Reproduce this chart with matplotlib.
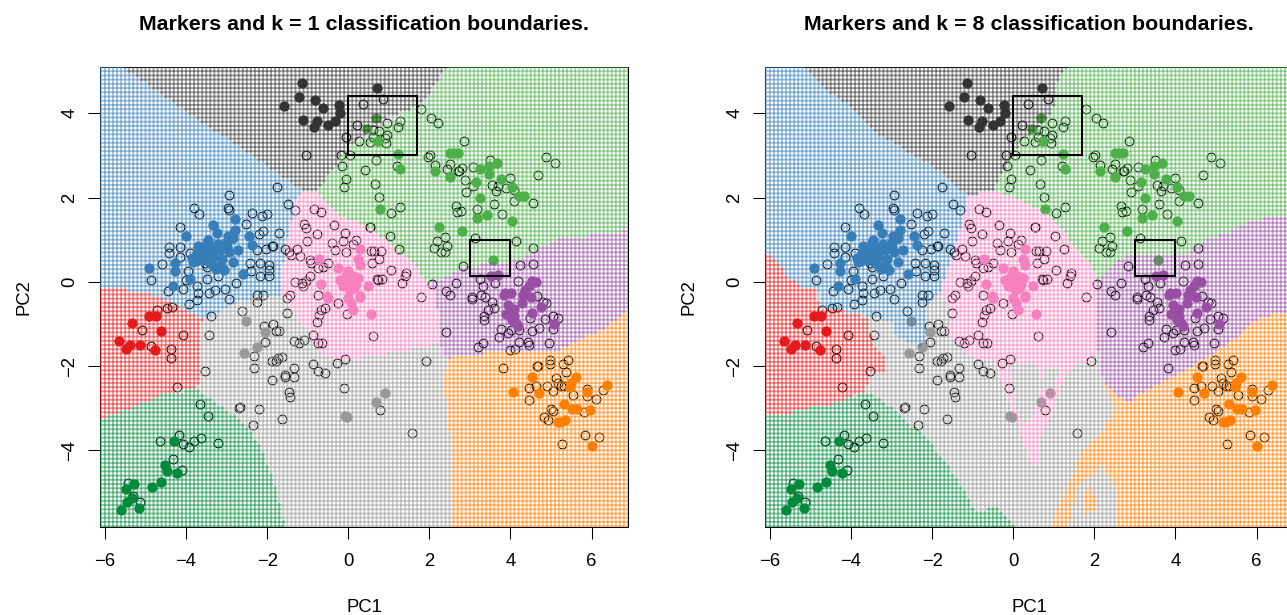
import numpy as np
from matplotlib import pyplot as plt
from matplotlib.collections import LineCollection
from matplotlib.path import Path

plt.rcParams['font.family'] = ['Liberation Sans', 'DejaVu Sans']

# 마커 세포 (PC1, PC2)
dark_grey_cells = [(-1.14,4.71),(-1.22,4.38),(-1.59,4.17),(-0.83,4.32),(-0.62,4.12),(-0.23,4.20),(-0.21,4.00),
    (-0.32,3.81),(-0.51,3.72),(-0.76,3.81),(-0.85,3.68),(-1.12,3.83),(0.72,4.60)]
blue_cells = [(-2.80,1.48),(-3.34,1.34),(-4.00,1.08),(-3.23,1.16),(-2.79,1.24),(-2.44,1.08),(-3.45,1.00),(-2.96,1.09),
    (-2.84,1.04),(-2.37,0.88),(-4.91,0.34),(-4.26,0.44),(-4.26,0.25),(-3.89,0.07),(-4.31,-0.09),(-3.82,0.48),(-3.70,0.84),
    (-3.58,0.76),(-3.66,0.60),(-3.41,0.84),(-3.17,0.76),(-3.00,0.84),(-2.71,0.76),(-2.84,0.48),(-3.29,0.36),(-3.06,0.29),
    (-2.59,0.19),(-3.74,0.68),(-3.33,0.60),(-3.49,0.92),(-3.86,0.56),(-3.2,0.9),(-3.5,0.65),(-3.1,0.55),(-3.25,0.3),(-3.0,0.95),
    (-3.3,0.75),(-3.6,0.55),(-3.15,0.4),(-2.95,0.7),(-3.4,0.45),(-3.75,0.5)]
pink_cells = [(0.28,0.79),(-0.71,0.55),(0.24,0.55),(-0.25,0.32),(0.28,0.40),(0.0,0.25),(0.12,0.13),(-0.66,-0.06),
    (-0.13,-0.11),(0.49,-0.11),(0.12,-0.03),(0.28,-0.33),(-0.52,-0.33),(-0.50,-0.39),(0.28,-0.35),(0,-0.39),(0.12,-0.67),
    (0.08,-0.51),(0.57,-0.77),(0.0,0.05),(-0.1,-0.05),(0.05,-0.2),(0.25,0.1),(-0.2,0.05),(0.15,-0.15),(0.2,-0.05),(-0.05,0.15)]
grey_cells = [(-2.51,-0.94),(-2.04,-1.20),(-2.25,-1.54),(-2.57,-1.70),(0.92,-2.63),(0.68,-2.86),(-0.09,-3.18),(-0.03,-3.21)]
red_cells = [(-5.32,-0.98),(-4.91,-0.80),(-4.74,-0.81),(-4.62,-1.17),(-5.64,-1.41),(-5.37,-1.51),(-5.14,-1.50),
    (-5.49,-1.60),(-4.77,-1.62)]
dark_green_cells = [(-4.30,-3.79),(-4.51,-4.36),(-4.46,-4.50),(-4.22,-4.53),(-4.62,-4.76),(-4.84,-4.86),(-5.28,-4.81),
    (-5.49,-4.92),(-5.34,-5.12),(-5.46,-5.22),(-5.17,-5.37),(-5.60,-5.42)]
green_cells = [(0.68,3.90),(0.46,3.63),(0.73,3.35),(1.24,3.04),(1.27,2.68),(2.51,3.07),(2.62,3.07),(2.70,3.06),(2.14,2.63),
    (2.51,2.49),(3.24,2.68),(3.48,2.74),(3.67,2.83),(3.48,2.57),(3.76,2.45),(3.14,2.37),(4.03,2.24),(4.22,2.03),(4.33,2.03),
    (3.25,2.00),(3.43,1.58),(3.17,1.51),(4.04,1.44),(2.23,1.31),(2.80,1.21),(0.78,1.73),(3.58,0.51)]
purple_cells = [(3.70,0.17),(3.87,-0.27),(4.54,0.02),(3.85,-0.31),(4.31,-0.31),(4.51,-0.35),(4.29,-0.51),(3.94,-0.55),
    (4.76,-0.60),(3.88,-0.76),(4.54,-0.75),(4.10,-0.82),(4.14,-0.98),(5.07,-1.01),(4.18,-1.06),(4.02,-0.27),(4.64,-0.01),
    (3.53,0.13),(4.47,-0.11),(4.1,-0.65),(4.35,-0.2),(4.05,-0.9)]
orange_cells = [(4.54,-2.27),(5.63,-2.26),(5.50,-2.41),(5.47,-2.50),(6.38,-2.44),(4.06,-2.62),(4.71,-2.64),(5.89,-2.62),
    (5.31,-2.91),(5.51,-3.02),(5.65,-3.02),(5.97,-3.04),(5.17,-3.32),(5.25,-3.33),(5.35,-3.29),(6.02,-3.90)]

# 마커가 없는 세포
other_cells = [(-2.93,2.06),(-3.80,1.76),(-3.67,1.60),(-2.97,1.76),(-2.95,1.71),(-2.36,1.64),(-2.13,1.56),(-1.99,1.62),
    (-2.51,1.37),(-4.14,1.29),(-1.71,1.16),(-2.10,1.20),(-2.20,1.14),(-1.85,0.86),(-1.89,0.84),(-2.03,0.79),(-2.26,0.76),
    (-4.41,0.82),(-4.41,0.68),(-4.15,0.82),(-4.15,0.60),(-4.59,0.43),(-4.86,0.04),(-4.45,-0.22),(-4.08,-0.17),(-3.72,-0.11),
    (-3.29,-0.19),(-3.04,-0.16),(-2.77,-0.03),(-3.47,0.07),(-3.21,0.13),(-2.43,0.44),(-2.18,0.44),(-1.95,0.40),(-1.95,0.29),
    (-1.95,0.13),(-2.18,0.13),(-2.39,0.25),(-3.95,0.25),(-3.99,0.05),(-3.70,-0.27),(-3.90,0.68),(-3.53,0.44),(-3.49,0.36),
    (-2.10,-0.31),(-2.24,-0.31),(-1.75,2.26),(-1.48,1.84),(-1.31,1.71),(-1.55,0.78),(-3.72,-0.43),(-3.92,-0.53),(-3.42,-0.27),
    (-2.93,-0.40),(-2.24,-0.47),(-4.46,-0.63),(-4.34,-0.60),(-4.72,-0.68),(-3.39,-0.80),
    (-1.10,1.38),(-1.05,1.27),(-0.77,1.13),(-1.01,0.97),(-0.66,1.65),(-0.85,1.72),(-0.35,1.35),(-0.09,1.17),(0.55,1.31),
    (0.20,1.00),(0.12,0.90),(-0.13,0.96),(-0.32,0.76),(-0.41,0.92),(-0.05,0.72),(0.57,0.74),(0.63,0.74),(-1.26,0.78),
    (-1.47,0.72),(-1.40,0.64),(-1.18,0.62),(-0.95,0.52),(-0.91,0.44),(-1.30,-0.01),(-1.15,-0.02),(-1.03,0.02),(-0.95,0.13),
    (-1.11,-0.10),(-0.74,-0.31),(-1.44,-0.31),(-0.62,0.36),(-0.50,0.44),(-0.74,0.32),(0.73,0.05),(1.25,0.78),(1.02,1.08),
    (0.80,0.74),(0.75,0.54),(0.59,0.44),(1.06,0.28),(1.43,0.21),(1.41,0.14),(0.72,0.06),(0.83,0.06),(1.33,-0.03),(1.80,-0.35),
    (-1.52,-0.39),(-0.25,-0.51),(-0.56,-0.63),(-0.03,-0.76),(-0.68,-0.66),(-0.72,-0.78),(-0.77,-0.96),(-0.87,-1.26),
    (-0.74,-1.46),(-0.64,-1.46),(-1.09,-1.38),(-1.22,-1.46),(-1.33,-1.40),(-1.50,-0.74),(0.60,-1.28),
    (-2.62,-0.69),(-2.08,-1.06),(-1.85,-1.00),(-1.77,-1.16),(-1.70,-1.16),(-2.06,-1.42),(-2.32,-1.75),(-1.88,-1.89),
    (-1.79,-1.89),(-1.73,-1.81),(-1.62,-1.79),(-2.33,-2.04),(-1.56,-2.21),(-1.56,-2.25),(-1.34,-2.05),(-1.33,-2.26),
    (-1.89,-2.34),(-0.87,-1.95),(-0.75,-2.11),(-0.57,-2.17),(-0.28,-1.92),(-0.07,-1.84),(-0.11,-2.53),(-1.46,-2.62),
    (-1.43,-2.74),(-2.20,-3.03),(-2.67,-2.96),(-2.70,-3.00),(-1.63,-3.25),(-2.34,-3.39),(-3.53,-2.11),(-3.44,-1.26),
    (0.78,-3.04),(1.57,-3.59),(1.92,-1.88),
    (-5.08,-1.14),(-4.86,-1.52),(-4.36,-1.59),(-4.36,-1.80),(-4.08,-1.26),(-4.22,-2.49),
    (-3.65,-2.91),(-3.45,-3.18),(-4.17,-3.63),(-4.65,-3.77),(-4.07,-3.85),(-3.93,-3.92),(-3.81,-3.78),(-3.64,-3.71),
    (-3.22,-3.82),(-4.32,-4.20),(-4.11,-4.47),(-5.42,-4.77),(-5.30,-5.08),(-5.13,-5.23),
    (0.36,4.23),(0.87,4.34),(1.79,4.11),(2.03,3.88),(2.22,3.78),(1.28,3.82),(1.23,3.67),(0.96,3.78),(0.22,3.72),(0.61,3.61),
    (0.76,3.57),(0.96,3.49),(-0.05,3.44),(0.27,3.34),(0.55,3.33),(0.61,3.44),(0.90,3.41),(0.93,3.29),(0.05,3.02),(-0.18,3.00),
    (0.69,2.90),(-0.15,2.76),(0.42,2.66),(1.20,2.74),(-0.05,2.45),(-0.11,2.24),(0.67,2.32),(0.75,2.02),(1.06,1.64),(1.28,1.78),
    (2.85,3.35),(1.97,2.96),(2.01,3.02),(2.15,2.78),(2.50,2.79),(2.44,2.68),(2.73,2.62),(2.80,2.70),(2.71,2.64),(3.08,2.72),
    (3.49,2.90),(4.00,2.46),(4.88,2.96),(5.09,2.82),(4.68,2.53),(2.88,2.41),(3.09,2.28),(2.91,2.13),(3.54,2.30),(3.69,2.28),
    (3.64,2.15),(3.88,2.23),(4.10,2.19),(4.08,1.93),(4.55,1.88),(3.60,1.85),(3.17,1.74),(2.66,1.79),(2.68,1.65),(2.78,1.69),
    (3.79,1.62),(0.54,1.30),(2.39,1.06),(2.20,0.97),(2.43,0.86),(2.12,0.80),(2.30,0.72),(2.39,0.72),(3.12,1.04),(4.14,0.98),
    (4.55,0.80),(2.84,0.38),(-1.03,3.01),
    (2.07,-0.06),(2.42,-0.21),(2.51,-0.31),(2.65,-0.03),(3.24,0.06),(3.32,-0.10),(3.61,-0.03),(4.23,0.40),(4.56,0.42),
    (4.18,0.03),(3.06,-0.36),(3.28,-0.31),(3.06,-0.40),(3.38,-0.36),(3.55,-0.49),(3.59,-0.63),(3.44,-0.66),(3.36,-0.81),
    (3.36,-0.90),(2.41,-1.20),(3.76,-1.12),(3.71,-1.31),(3.94,-1.22),(4.02,-1.14),(4.22,-1.14),(4.54,-1.16),(4.70,-1.09),
    (5.05,-1.12),(4.43,-1.42),(4.46,-1.51),(4.21,-1.43),(4.94,-1.46),(3.32,-1.46),(3.21,-1.55),(4.00,-1.63),(4.12,-1.60),
    (4.65,-0.33),(4.88,-0.51),(4.80,-0.49),(4.49,-0.86),(4.86,-0.88),(5.06,-0.81),(5.17,-0.86),
    (3.81,-2.04),(4.65,-2.00),(4.69,-2.00),(4.98,-1.85),(4.98,-1.95),(5.29,-1.95),(5.42,-1.85),(5.37,-2.15),(5.13,-2.29),
    (5.17,-2.39),(5.24,-2.47),(5.31,-2.47),(4.46,-2.51),(4.63,-2.47),(4.91,-2.47),(5.05,-2.59),(4.45,-2.80),(5.54,-2.68),
    (5.90,-2.54),(5.88,-2.72),(6.10,-2.79),(6.28,-2.57),(4.99,-3.02),(5.04,-3.06),(5.81,-3.10),(4.83,-3.21),(4.93,-3.29),
    (5.83,-3.64),(6.19,-3.68),(5.27,-3.84)]

# 색상
cell_colors = {'dark_grey': '#333333', 'blue': '#377EB8', 'pink': '#F781BF', 'grey': '#999999', 'red': '#E41A1C',
               'dark_green': '#018A3C', 'green': '#4DAF4A', 'purple': '#984EA3', 'orange': '#FF7F00'}
marked_cells = [('dark_grey', dark_grey_cells), ('blue', blue_cells), ('pink', pink_cells), ('grey', grey_cells),
                ('red', red_cells), ('dark_green', dark_green_cells), ('green', green_cells),
                ('purple', purple_cells), ('orange', orange_cells)]

# k = 1 경계 (앞에서부터 차례로 덮어쓴다, 나머지는 grey)
regions_k1 = [
    ('green', [(2.58,5.3),(7.1,5.3),(7.1,1.24),(5.13,1.0),(4.22,0.52),(2.91,0.36),(2.01,-0.03),(1.43,0.6),(0.61,1.23),
               (-0.21,1.59),(-0.78,2.15),(0.0,3.2),(1.2,3.9),(1.9,4.3)]),
    ('dark_grey', [(-5.87,5.3),(2.58,5.3),(1.76,4.16),(1.0,3.9),(0.0,3.2),(-0.78,2.15),(-1.11,2.15)]),
    ('blue', [(-6.3,5.3),(-5.87,5.3),(-1.11,2.15),(-1.28,2.03),(-1.44,1.24),(-1.56,0.76),(-1.65,0.13),(-1.6,-0.31),(-2.26,-0.39),
              (-2.84,-0.51),(-3.41,-0.86),(-3.58,-0.90),(-4.72,-0.32),(-6.3,-0.07)]),
    ('pink', [(-1.11,2.15),(-0.78,2.15),(-0.21,1.59),(0.61,1.23),(1.43,0.6),(2.01,-0.03),(2.17,-0.19),(2.25,-1.46),(1.19,-1.66),
              (-0.21,-1.89),(-0.78,-1.62),(-1.03,-1.14),(-1.44,-0.59),(-1.6,-0.31),(-1.65,0.13),(-1.56,0.76),(-1.44,1.24),(-1.28,2.03)]),
    ('purple', [(7.1,1.24),(5.13,1.0),(4.22,0.52),(2.91,0.36),(2.01,-0.03),(2.17,-0.19),(2.25,-1.46),(2.42,-1.81),(3.4,-1.69),
                (4.22,-1.66),(5.05,-1.69),(5.70,-1.38),(6.36,-1.10),(7.1,-0.55)]),
    ('orange', [(2.42,-1.81),(3.4,-1.69),(4.22,-1.66),(5.05,-1.69),(5.70,-1.38),(6.36,-1.10),(7.1,-0.55),(7.1,-6.0),(2.5,-6.0),
                (2.5,-3.6),(2.38,-2.56)]),
    ('red', [(-6.3,-0.07),(-4.72,-0.32),(-3.58,-0.90),(-3.62,-0.98),(-3.66,-2.49),(-4.48,-2.64),(-5.46,-3.04),(-6.3,-3.3)]),
    ('dark_green', [(-6.3,-3.3),(-5.46,-3.04),(-4.48,-2.64),(-3.74,-2.57),(-2.75,-3.2),(-2.26,-3.75),(-1.85,-4.62),(-1.52,-6.0),
                    (-6.3,-6.0)]),
]

# k = 8 경계
regions_k8 = [
    ('green', [(1.43,5.3),(7.1,5.3),(7.1,1.65),(5.9,1.47),(5.42,1.24),(4.76,1.0),(4.27,0.68),(2.95,0.68),(2.46,0.44),(2.09,0.01),
               (1.97,0.36),(1.47,0.92),(0.90,1.55),(0.16,1.95),(-0.33,2.11),(-0.46,2.19),(-0.37,2.45),(-0.05,2.9),(0.16,3.3),(0.57,3.61),
               (0.98,4.0),(1.06,4.7)]),
    ('dark_grey', [(-5.3,5.3),(1.43,5.3),(1.06,4.7),(0.98,4.0),(0.57,3.61),(0.16,3.3),(-0.05,2.9),(-0.37,2.45),(-0.46,2.19),(-1.11,2.03),
                   (-1.85,2.66),(-2.67,3.14),(-3.41,3.53),(-3.9,4.08),(-4.6,4.55),(-4.95,4.9)]),
    ('blue', [(-6.3,5.3),(-5.3,5.3),(-4.95,4.9),(-4.6,4.55),(-3.9,4.08),(-3.41,3.53),(-2.67,3.14),(-1.85,2.66),(-1.11,2.03),(-1.24,1.47),
              (-1.44,0.76),(-1.69,0.05),(-1.85,-0.35),(-2.1,-0.6),(-2.15,-1.3),(-2.26,-1.54),(-2.75,-1.38),(-2.92,-1.22),(-3.0,-0.98),
              (-3.58,-0.82),(-3.9,-0.74),(-4.72,-0.63),(-4.81,-0.19),(-5.22,-0.11),(-5.55,0.13),(-5.79,0.44),(-6.03,0.68),(-6.3,0.75)]),
    ('pink', [(-1.11,2.03),(-0.46,2.19),(-0.33,2.11),(0.16,1.95),(0.90,1.55),(1.47,0.92),(1.97,0.36),(2.09,0.01),(2.05,-0.19),(2.05,-1.30),
              (1.97,-1.97),(1.56,-1.97),(1.23,-2.33),(0.98,-3.1),(0.65,-3.76),(0.61,-4.31),(0.41,-4.31),(0.12,-3.36),(-0.25,-2.57),
              (-0.46,-1.85),(-0.62,-1.85),(-1.11,-1.77),(-1.64,-1.22),(-1.52,-0.74),(-1.81,-0.35),(-1.69,0.05),(-1.44,0.76),(-1.24,1.47)]),
    ('grey', [(-0.1,-2.0),(0.55,-2.0),(0.75,-2.4),(0.6,-3.0),(0.3,-3.4),(0.05,-3.0)]),
    ('grey', [(0.75,-2.0),(1.15,-2.05),(1.0,-2.6),(0.8,-2.6)]),
    ('purple', [(7.1,1.65),(5.9,1.47),(5.42,1.24),(4.76,1.0),(4.27,0.68),(2.95,0.68),(2.46,0.44),(2.09,0.01),(2.05,-0.19),(2.05,-1.30),
                (2.21,-2.33),(2.46,-2.57),(2.79,-2.88),(3.03,-2.72),(3.61,-2.41),(4.27,-2.09),(4.92,-1.69),(5.42,-1.38),(6.0,-0.9),(7.1,-0.6)]),
    ('orange', [(2.21,-2.33),(2.46,-2.57),(2.79,-2.88),(3.03,-2.72),(3.61,-2.41),(4.27,-2.09),(4.92,-1.69),(5.42,-1.38),(6.0,-0.9),(7.1,-0.6),
                (7.1,-6.0),(0.85,-6.0),(1.15,-5.26),(1.56,-4.39),(1.72,-3.99),(2.13,-3.6),(2.54,-3.04)]),
    ('grey', [(1.3,-6.0),(1.6,-4.8),(2.2,-4.4),(2.6,-5.0),(2.55,-6.0)]),
    ('orange', [(1.7,-5.6),(1.8,-4.9),(1.95,-4.75),(2.05,-5.4)]),
    ('red', [(-6.3,0.75),(-6.03,0.68),(-5.79,0.44),(-5.55,0.13),(-5.22,-0.11),(-4.81,-0.19),(-4.81,-0.43),(-4.72,-0.63),(-3.9,-0.74),
             (-3.58,-0.9),(-3.42,-1.54),(-3.08,-1.85),(-3.2,-2.13),(-3.57,-2.17),(-3.62,-2.57),(-4.07,-2.76),(-4.56,-2.96),(-4.97,-2.96),
             (-5.71,-3.2),(-6.3,-3.16)]),
    ('dark_green', [(-6.3,-3.16),(-5.71,-3.2),(-4.97,-2.96),(-4.56,-2.96),(-4.07,-2.76),(-3.58,-2.64),(-3.08,-2.92),(-2.18,-3.67),(-1.85,-4.07),
                    (-1.36,-4.7),(-1.03,-5.26),(-0.9,-5.5),(-0.45,-5.34),(0.03,-5.73),(0.1,-6.0),(-6.3,-6.0)]),
]

grid_x = np.arange(-61, 70) / 10
grid_y = np.arange(-58, 52) / 10
grid_step = 0.1
box_1 = (0, 3.0, 1.7, 1.4)
box_2 = (3.0, 0.15, 1.0, 0.85)


def draw_panel(ax, k, regions):
    # 세포를 먼저 그리고 격자를 반투명하게 위에 올린다
    cells = np.array(other_cells)
    ax.plot(cells[:, 0], cells[:, 1], 'o', mfc='none', mec='black', ms=6.3, mew=0.75, zorder=2)
    for name, points in marked_cells:
        points = np.array(points)
        ax.plot(points[:, 0], points[:, 1], 'o', color=cell_colors[name], ms=7.4, mew=0, zorder=3)

    xx, yy = np.meshgrid(grid_x, grid_y)
    grid_points = np.column_stack([xx.ravel(), yy.ravel()])
    labels = np.full(len(grid_points), 'grey', dtype=object)
    for name, polygon in regions:
        labels[Path(polygon).contains_points(grid_points)] = name
    half = grid_step / 2
    for name in cell_colors:
        picked = grid_points[labels == name]
        segments = []
        for x, y in picked:
            segments.append([(x - half, y), (x + half, y)])
            segments.append([(x, y - half), (x, y + half)])
        lines = LineCollection(segments, colors=cell_colors[name], linewidths=1.3, alpha=0.5, zorder=4, capstyle='butt')
        lines.set_snap(False)
        ax.add_collection(lines)

    for x, y, w, h in [box_1, box_2]:
        ax.add_patch(plt.Rectangle((x, y), w, h, fill=False, ec='black', lw=1.5, zorder=5))

    ax.set_xlim(-6.12, 6.9)
    ax.set_ylim(-5.82, 5.1)
    ax.set_xticks([-6, -4, -2, 0, 2, 4, 6])
    ax.set_yticks([-4, -2, 0, 2, 4])
    ax.tick_params(axis='x', length=8.6, width=0.75, labelsize=13.3, pad=10)
    ax.tick_params(axis='y', length=8.6, width=0.75, labelsize=13.3, pad=7)
    plt.setp(ax.get_yticklabels(), rotation=90, va='center')
    ax.set_title('Markers and k = %d classification boundaries.' % k, fontsize=15.4, fontweight='bold', pad=27)
    ax.set_xlabel('PC1', fontsize=13.3, labelpad=21)
    ax.set_ylabel('PC2', fontsize=13.3, labelpad=21)
    for spine in ax.spines.values():
        spine.set_linewidth(0.75)


fig = plt.figure(figsize=(12.87, 6.15), dpi=100)
ax1 = fig.add_axes([100 / 1287, 1 - 527 / 615, 528 / 1287, 460 / 615])
ax2 = fig.add_axes([765 / 1287, 1 - 527 / 615, 528 / 1287, 460 / 615])
draw_panel(ax1, 1, regions_k1)
draw_panel(ax2, 8, regions_k8)
fig.savefig('out.png', dpi=100)
